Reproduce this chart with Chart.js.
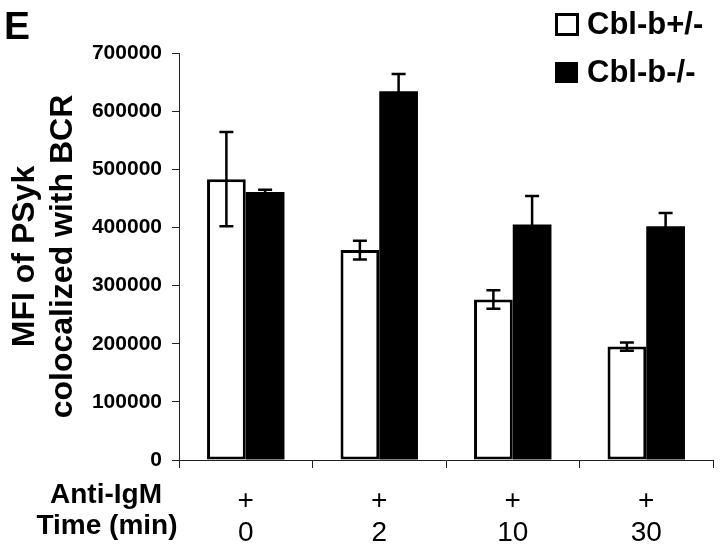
<!DOCTYPE html>
<html>
<head>
<meta charset="utf-8">
<script src="https://cdn.jsdelivr.net/npm/chart.js@4/dist/chart.umd.min.js"></script>
<style>
  html, body { margin: 0; padding: 0; background: #fff; }
  #wrap { width: 720px; height: 554px; }
</style>
</head>
<body>
<div id="wrap"><canvas id="theChart" width="720" height="554"></canvas></div>
<script>
"use strict";

// Data
const times = ["0", "2", "10", "30"];
const antiIgM = ["+", "+", "+", "+"];
const seriesNames = ["Cbl-b+/-", "Cbl-b-/-"];
const hetValues = [483000, 361000, 276000, 195000];
const hetErrors = [81000, 16000, 16000, 7000];
const koValues = [461000, 634000, 405000, 402000];
const koErrors = [4000, 30000, 49000, 23000];
const yMin = 0;
const yMax = 700000;
const yStep = 100000;

const FONT = "'Liberation Sans', Arial, Helvetica, sans-serif";

// x labels: two rows, "+" then the time
const xLabels = times.map((t, i) => [antiIgM[i], t]);

// error bars on top of each bar
const errorBars = {
  id: "errorBars",
  afterDatasetsDraw(chart) {
    const ctx = chart.ctx;
    const yScale = chart.scales.y;
    const errs = [hetErrors, koErrors];
    ctx.save();
    ctx.strokeStyle = "#000";
    ctx.lineWidth = 2.5;
    chart.data.datasets.forEach((ds, di) => {
      const meta = chart.getDatasetMeta(di);
      meta.data.forEach((bar, i) => {
        const v = ds.data[i];
        const e = errs[di][i];
        const x = bar.x;
        const yTop = yScale.getPixelForValue(v + e);
        const yBot = yScale.getPixelForValue(v - e);
        ctx.beginPath();
        ctx.moveTo(x, yTop);
        ctx.lineTo(x, yBot);
        ctx.moveTo(x - 7, yTop);
        ctx.lineTo(x + 7, yTop);
        ctx.moveTo(x - 7, yBot);
        ctx.lineTo(x + 7, yBot);
        ctx.stroke();
      });
    });
    ctx.restore();
  }
};

// panel letter, legend and the row captions under the axis
const extras = {
  id: "extras",
  afterDraw(chart) {
    const ctx = chart.ctx;
    ctx.save();
    ctx.fillStyle = "#000";

    ctx.font = "bold 39px " + FONT;
    ctx.textAlign = "left";
    ctx.textBaseline = "alphabetic";
    ctx.fillText("E", 4, 39);

    // legend
    ctx.lineWidth = 3;
    ctx.strokeStyle = "#000";
    ctx.fillStyle = "#fff";
    ctx.fillRect(556.5, 14.5, 21, 20);
    ctx.strokeRect(556.5, 14.5, 21, 20);
    ctx.fillStyle = "#000";
    ctx.fillRect(555, 62, 23, 21);
    ctx.font = "bold 31px " + FONT;
    ctx.textBaseline = "middle";
    ctx.fillText(seriesNames[0], 587, 25);
    ctx.fillText(seriesNames[1], 587, 73);

    // row captions
    ctx.font = "bold 28px " + FONT;
    ctx.textAlign = "center";
    ctx.textBaseline = "alphabetic";
    ctx.fillText("Anti-IgM", 106, 503);
    ctx.fillText("Time (min)", 107, 534);
    ctx.restore();
  }
};

new Chart(document.getElementById("theChart"), {
  type: "bar",
  data: {
    labels: xLabels,
    datasets: [
      {
        label: seriesNames[0],
        data: hetValues,
        backgroundColor: "#fff",
        borderColor: "#000",
        borderWidth: 3,
        borderSkipped: false
      },
      {
        label: seriesNames[1],
        data: koValues,
        backgroundColor: "#000",
        borderWidth: 0
      }
    ]
  },
  options: {
    responsive: false,
    animation: false,
    layout: { padding: { top: 53, right: 7, left: 0, bottom: 0 } },
    datasets: {
      bar: { categoryPercentage: 0.58, barPercentage: 1 }
    },
    plugins: {
      legend: { display: false },
      tooltip: { enabled: false }
    },
    scales: {
      x: {
        afterFit(scale) { scale.height = 94; },
        grid: {
          drawOnChartArea: false,
          tickLength: 8,
          color: "#222",
          lineWidth: 1
        },
        border: { color: "#222", width: 1 },
        ticks: {
          color: "#000",
          padding: 17,
          maxRotation: 0,
          autoSkip: false,
          font: { family: FONT, size: 28, lineHeight: 1.15 }
        }
      },
      y: {
        min: yMin,
        max: yMax,
        afterFit(scale) { scale.width = 179; },
        grid: {
          drawOnChartArea: false,
          tickLength: 7,
          color: "#222",
          lineWidth: 1
        },
        border: { color: "#222", width: 1 },
        ticks: {
          stepSize: yStep,
          color: "#000",
          padding: 10,
          font: { family: FONT, size: 21, weight: "bold" },
          callback: (v) => String(v)
        },
        title: {
          display: true,
          text: ["MFI of PSyk", "colocalized with BCR"],
          color: "#000",
          padding: { top: 6, bottom: 0 },
          font: { family: FONT, size: 32, weight: "bold", lineHeight: 1.2 }
        }
      }
    }
  },
  plugins: [errorBars, extras]
});
</script>
</body>
</html>
